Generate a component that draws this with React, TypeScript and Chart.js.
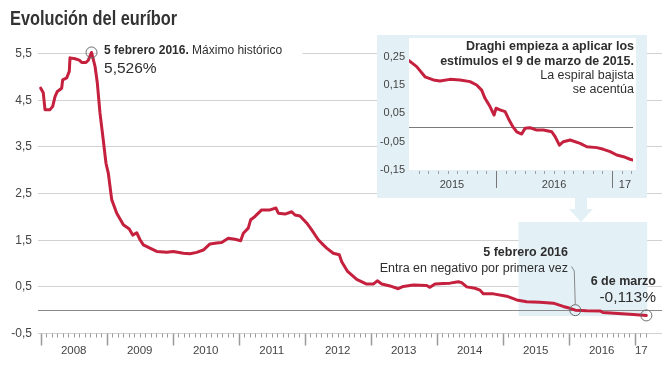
import React, { useEffect, useRef } from 'react';
import { Chart, registerables } from 'chart.js';
Chart.register(...registerables);

const FONT = '"Liberation Sans", Arial, Helvetica, sans-serif';
const LINE_COLOR = '#c5203e';
const TEXT = '#2e2e2e';
const AXIS_TEXT = '#444444';
const BLUE = '#e3f0f6';

// ---- Main series (decimal year, % value) ----
const mainDates = [
  2008.0, 2008.039, 2008.065, 2008.141, 2008.182, 2008.217, 2008.252, 2008.318, 2008.333, 2008.394,
  2008.433, 2008.444, 2008.52, 2008.585, 2008.621, 2008.686, 2008.721, 2008.77, 2008.823, 2008.858,
  2008.898, 2008.948, 2008.989, 2009.024, 2009.076, 2009.152, 2009.252, 2009.342, 2009.394, 2009.455,
  2009.505, 2009.555, 2009.656, 2009.758, 2009.909, 2010.009, 2010.161, 2010.262, 2010.364, 2010.464,
  2010.565, 2010.667, 2010.742, 2010.842, 2010.944, 2011.03, 2011.07, 2011.145, 2011.182, 2011.247,
  2011.348, 2011.474, 2011.565, 2011.6, 2011.702, 2011.803, 2011.853, 2011.929, 2012.03, 2012.106,
  2012.206, 2012.282, 2012.333, 2012.433, 2012.524, 2012.561, 2012.65, 2012.788, 2012.939, 2013.039,
  2013.1, 2013.167, 2013.292, 2013.418, 2013.494, 2013.645, 2013.848, 2013.898, 2013.974, 2014.1,
  2014.202, 2014.327, 2014.379, 2014.455, 2014.58, 2014.656, 2014.706, 2014.858, 2015.061, 2015.212,
  2015.364, 2015.565, 2015.767, 2015.918, 2016.02, 2016.1, 2016.273, 2016.474, 2016.52, 2016.75,
  2016.979, 2017.177,
];
const mainValues = [
  4.76, 4.66, 4.3, 4.3, 4.37, 4.58, 4.69, 4.76, 4.94, 4.98,
  5.12, 5.41, 5.39, 5.36, 5.31, 5.31, 5.36, 5.526, 5.23, 4.87,
  4.23, 3.65, 3.15, 2.94, 2.37, 2.08, 1.83, 1.74, 1.61, 1.66,
  1.51, 1.4, 1.33, 1.26, 1.24, 1.26, 1.22, 1.21, 1.24, 1.29,
  1.42, 1.44, 1.45, 1.54, 1.52, 1.49, 1.65, 1.76, 1.94, 2.01,
  2.15, 2.15, 2.19, 2.08, 2.06, 2.11, 2.04, 2.02, 1.87, 1.72,
  1.51, 1.4, 1.33, 1.22, 1.19, 1.04, 0.83, 0.66, 0.56, 0.56,
  0.63, 0.56, 0.52, 0.46, 0.51, 0.54, 0.53, 0.49, 0.56, 0.57,
  0.58, 0.61, 0.59, 0.5, 0.47, 0.43, 0.35, 0.35, 0.3, 0.22,
  0.18, 0.17, 0.15, 0.08, 0.04, 0.0, -0.01, -0.015, -0.05, -0.07,
  -0.09, -0.113,
];
const mainYTicks = [-0.5, 0, 0.5, 1.5, 2.5, 3.5, 4.5, 5.5];
const mainYearLabels = ['2008', '2009', '2010', '2011', '2012', '2013', '2014', '2015', '2016', '17'];
const mainYearLabelPos = [2008.5, 2009.5, 2010.5, 2011.5, 2012.5, 2013.5, 2014.5, 2015.5, 2016.5, 2017.1];

// ---- Inset series ----
const insetDates = [
  2015.25, 2015.316, 2015.388, 2015.46, 2015.517, 2015.603, 2015.69, 2015.776, 2015.833, 2015.876,
  2015.905, 2015.948, 2015.983, 2016.0, 2016.034, 2016.078, 2016.106, 2016.144, 2016.178, 2016.221,
  2016.25, 2016.293, 2016.351, 2016.408, 2016.48, 2016.509, 2016.546, 2016.58, 2016.638, 2016.724,
  2016.782, 2016.868, 2016.925, 2016.983, 2017.04, 2017.098, 2017.155, 2017.18,
];
const insetValues = [
  0.236, 0.215, 0.179, 0.168, 0.164, 0.17, 0.168, 0.162, 0.15, 0.132,
  0.103, 0.074, 0.044, 0.068, 0.062, 0.056, 0.032, 0.003, -0.015, -0.023,
  -0.003, -0.001, -0.009, -0.009, -0.015, -0.032, -0.062, -0.05, -0.044, -0.056,
  -0.068, -0.071, -0.077, -0.085, -0.097, -0.103, -0.112, -0.115,
];
const insetYTicks = [-0.15, -0.05, 0, 0.05, 0.15, 0.25];
const insetYearLabels = ['2015', '2016', '17'];
const insetYearLabelPos = [2015.62, 2016.5, 2017.11];

const fmt = (v: number, d: number) => v.toFixed(d).replace('.', ',');

const noPadY = (w: number) => (s: any) => {
  s.width = w;
  s.paddingTop = 0;
  s.paddingBottom = 0;
};
const noPadX = (h: number) => (s: any) => {
  s.height = h;
  s.paddingLeft = 0;
  s.paddingRight = 0;
};

const mainDeco = {
  id: 'mainDeco',
  beforeDatasetsDraw(chart: any) {
    const { ctx, chartArea } = chart;
    const xs = chart.scales.x;
    const ys = chart.scales.y;
    ctx.save();
    // highlighted zone (linked to inset)
    const l = xs.getPixelForValue(2015.24);
    const r = xs.getPixelForValue(2017.19);
    const t = ys.getPixelForValue(1.89);
    const b = ys.getPixelForValue(-0.125);
    ctx.fillStyle = BLUE;
    ctx.fillRect(l, t, r - l, b - t);
    // zero line on top
    const y0 = Math.round(ys.getPixelForValue(0)) + 0.5;
    ctx.strokeStyle = '#8a8a8a';
    ctx.lineWidth = 1;
    ctx.beginPath();
    ctx.moveTo(chartArea.left, y0);
    ctx.lineTo(chartArea.right, y0);
    ctx.stroke();
    // white backing for the maximum label
    const px = xs.getPixelForValue(2008.77);
    const gy = ys.getPixelForValue(5.5);
    ctx.fillStyle = '#ffffff';
    ctx.fillRect(px + 6, gy - 7, 205, 14);
    // x ticks (monthly minor, yearly major)
    const yb = chartArea.bottom;
    ctx.strokeStyle = '#9a9a9a';
    for (let m = 0; m <= 9 * 12 + 2; m++) {
      const x = Math.round(xs.getPixelForValue(2008 + m / 12)) + 0.5;
      const major = m % 12 === 0;
      ctx.lineWidth = major ? 1.5 : 1;
      ctx.beginPath();
      ctx.moveTo(x, yb);
      ctx.lineTo(x, yb + (major ? 12 : 4));
      ctx.stroke();
    }
    ctx.restore();
  },
  afterDatasetsDraw(chart: any) {
    const { ctx } = chart;
    const xs = chart.scales.x;
    const ys = chart.scales.y;
    ctx.save();
    const circle = (xv: number, yv: number) => {
      ctx.beginPath();
      ctx.arc(xs.getPixelForValue(xv), ys.getPixelForValue(yv), 5.5, 0, Math.PI * 2);
      ctx.strokeStyle = '#6a6a6a';
      ctx.lineWidth = 1;
      ctx.stroke();
    };
    circle(2008.77, 5.526);
    circle(2016.1, 0.0);
    circle(2017.177, -0.113);

    // peak label
    const px = xs.getPixelForValue(2008.77) + 12.5;
    ctx.fillStyle = TEXT;
    ctx.textBaseline = 'middle';
    ctx.textAlign = 'left';
    ctx.font = `bold 12px ${FONT}`;
    const boldTxt = '5 febrero 2016.';
    ctx.fillText(boldTxt, px, 51);
    const w = ctx.measureText(boldTxt).width;
    ctx.font = `12px ${FONT}`;
    ctx.fillText(' Máximo histórico', px + w, 51);
    ctx.font = `15.5px ${FONT}`;
    ctx.fillText('5,526%', px, 69);

    // first negative label
    ctx.textAlign = 'right';
    ctx.font = `bold 12.5px ${FONT}`;
    ctx.fillText('5 febrero 2016', 568, 253);
    ctx.font = `12.5px ${FONT}`;
    ctx.fillText('Entra en negativo por primera vez', 568, 269);
    const cx = xs.getPixelForValue(2016.1);
    const cy = ys.getPixelForValue(0);
    ctx.strokeStyle = '#8a8a8a';
    ctx.lineWidth = 1;
    ctx.beginPath();
    ctx.moveTo(571.5, 266.5);
    ctx.lineTo(cx - 1, 271);
    ctx.lineTo(cx, cy - 5.5);
    ctx.stroke();

    // last value label
    ctx.font = `bold 12.5px ${FONT}`;
    ctx.fillText('6 de marzo', 656, 282);
    ctx.font = `15.5px ${FONT}`;
    ctx.fillText('-0,113%', 656, 298);

    // title (condensed)
    ctx.textAlign = 'left';
    ctx.textBaseline = 'alphabetic';
    ctx.fillStyle = '#333333';
    ctx.font = `bold 21px ${FONT}`;
    const title = 'Evolución del euríbor';
    const tw = ctx.measureText(title).width;
    ctx.translate(10, 25);
    ctx.scale(167 / tw, 1);
    ctx.fillText(title, 0, 0);
    ctx.setTransform(1, 0, 0, 1, 0, 0);

    // arrow from inset to zone
    ctx.fillStyle = BLUE;
    ctx.fillRect(575, 197, 12, 12);
    ctx.beginPath();
    ctx.moveTo(569, 209);
    ctx.lineTo(593, 209);
    ctx.lineTo(581, 222);
    ctx.closePath();
    ctx.fill();
    ctx.restore();
  },
};

const insetDeco = {
  id: 'insetDeco',
  beforeDraw(chart: any) {
    const { ctx, chartArea } = chart;
    ctx.save();
    ctx.fillStyle = '#ffffff';
    ctx.fillRect(chartArea.left, chartArea.top, chartArea.right - chartArea.left + 3, chartArea.bottom - chartArea.top);
    ctx.restore();
  },
  afterDraw(chart: any) {
    const { ctx, chartArea } = chart;
    const xs = chart.scales.x;
    ctx.save();
    const yb = chartArea.bottom + 1;
    for (let m = 4; m <= 26; m++) {
      const x = Math.round(xs.getPixelForValue(2015 + m / 12)) + 0.5;
      const major = m % 12 === 0;
      ctx.strokeStyle = major ? '#777777' : '#a0a0a0';
      ctx.lineWidth = 1;
      ctx.beginPath();
      ctx.moveTo(x, yb);
      ctx.lineTo(x, yb + (major ? 17 : 3));
      ctx.stroke();
    }
    ctx.fillStyle = TEXT;
    ctx.textAlign = 'right';
    ctx.textBaseline = 'middle';
    const rx = 257;
    ctx.font = `bold 12.5px ${FONT}`;
    ctx.fillText('Draghi empieza a aplicar los', rx, 11.7);
    ctx.fillText('estímulos el 9 de marzo de 2015.', rx, 26.7);
    ctx.font = `12.5px ${FONT}`;
    ctx.fillText('La espiral bajista', rx, 41);
    ctx.fillText('se acentúa', rx, 55);
    ctx.restore();
  },
};

export default function App() {
  const mainRef = useRef<HTMLCanvasElement>(null);
  const insetRef = useRef<HTMLCanvasElement>(null);

  useEffect(() => {
    const main = new Chart(mainRef.current as HTMLCanvasElement, {
      type: 'line',
      data: {
        datasets: [
          {
            data: mainDates.map((d, i) => ({ x: d, y: mainValues[i] })),
            borderColor: LINE_COLOR,
            borderWidth: 3,
            pointRadius: 0,
            tension: 0,
            borderJoinStyle: 'round',
            borderCapStyle: 'round',
          },
        ],
      },
      options: {
        animation: false,
        responsive: false,
        devicePixelRatio: 1,
        layout: { padding: { top: 49, right: 2, left: 0, bottom: 0 } },
        plugins: { legend: { display: false }, tooltip: { enabled: false }, title: { display: false } },
        scales: {
          x: {
            type: 'linear',
            min: 2007.959,
            max: 2017.414,
            afterBuildTicks: (s: any) => {
              s.ticks = mainYearLabelPos.map((v) => ({ value: v }));
            },
            afterFit: noPadX(34.5),
            grid: { display: false, drawTicks: false },
            border: { display: false },
            ticks: {
              autoSkip: false,
              maxRotation: 0,
              padding: 10,
              color: AXIS_TEXT,
              font: { family: FONT, size: 11.5 },
              callback: (_v: any, i: number) => mainYearLabels[i],
            },
          },
          y: {
            min: -0.5,
            max: 5.6,
            afterBuildTicks: (s: any) => {
              s.ticks = mainYTicks.map((v) => ({ value: v }));
            },
            afterFit: noPadY(38),
            grid: {
              drawTicks: false,
              color: (c: any) => (c.tick && c.tick.value === 0 ? '#8a8a8a' : '#d2d2d2'),
              lineWidth: 1,
            },
            border: { display: false },
            ticks: {
              padding: 6,
              color: AXIS_TEXT,
              font: { family: FONT, size: 12 },
              callback: (v: any) => (v === 0 ? '' : fmt(Number(v), 1)),
            },
          },
        },
      },
      plugins: [mainDeco],
    } as any);

    const inset = new Chart(insetRef.current as HTMLCanvasElement, {
      type: 'line',
      data: {
        datasets: [
          {
            data: insetDates.map((d, i) => ({ x: d, y: insetValues[i] })),
            borderColor: LINE_COLOR,
            borderWidth: 3,
            pointRadius: 0,
            tension: 0,
            borderJoinStyle: 'round',
            borderCapStyle: 'round',
          },
        ],
      },
      options: {
        animation: false,
        responsive: false,
        devicePixelRatio: 1,
        layout: { padding: { top: 3, right: 14, left: 0, bottom: 0 } },
        plugins: { legend: { display: false }, tooltip: { enabled: false } },
        scales: {
          x: {
            type: 'linear',
            min: 2015.25,
            max: 2017.18,
            afterBuildTicks: (s: any) => {
              s.ticks = insetYearLabelPos.map((v) => ({ value: v }));
            },
            afterFit: noPadX(28),
            grid: { display: false, drawTicks: false },
            border: { display: false },
            ticks: {
              autoSkip: false,
              maxRotation: 0,
              padding: 8,
              color: AXIS_TEXT,
              font: { family: FONT, size: 11 },
              callback: (_v: any, i: number) => insetYearLabels[i],
            },
          },
          y: {
            min: -0.15,
            max: 0.316,
            afterBuildTicks: (s: any) => {
              s.ticks = insetYTicks.map((v) => ({ value: v }));
            },
            afterFit: noPadY(32),
            grid: {
              drawTicks: false,
              color: (c: any) => (c.tick && c.tick.value === 0 ? '#7a7a7a' : 'rgba(0,0,0,0)'),
              lineWidth: 1,
            },
            border: { display: false },
            ticks: {
              padding: 4,
              color: AXIS_TEXT,
              font: { family: FONT, size: 11 },
              callback: (v: any) => (v === 0 ? '' : fmt(Number(v), 2)),
            },
          },
        },
      },
      plugins: [insetDeco],
    } as any);

    return () => {
      main.destroy();
      inset.destroy();
    };
  }, []);

  return (
    <div style={{ position: 'fixed', left: 0, top: 0, width: 664, height: 368, background: '#ffffff' }}>
      <canvas ref={mainRef} width={664} height={368} style={{ position: 'absolute', left: 0, top: 0, display: 'block' }} />
      <canvas
        ref={insetRef}
        width={270}
        height={163}
        style={{ position: 'absolute', left: 377, top: 35, display: 'block', background: BLUE }}
      />
    </div>
  );
}
